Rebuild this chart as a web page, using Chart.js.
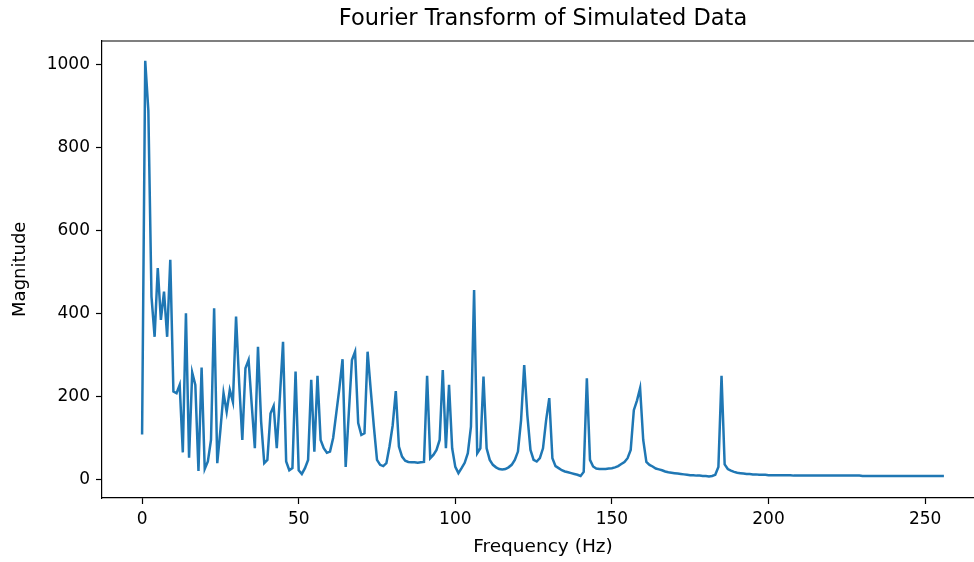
<!DOCTYPE html>
<html>
<head>
<meta charset="utf-8">
<script src="https://cdn.jsdelivr.net/npm/chart.js@4.4.0/dist/chart.umd.min.js"></script>
<style>
  html, body { margin: 0; padding: 0; background: #fff; overflow: hidden; }
  #wrap { width: 992px; height: 562px; }
</style>
</head>
<body>
<div id="wrap"><canvas id="fft" width="992" height="562"></canvas></div>
<script>
// FFT magnitude, one value per 1 Hz bin from 0 to 256 Hz
const magnitude = [
  108, 1010, 890, 441, 344, 510, 385, 453, 344, 530,   // 0
  212, 208, 228, 65, 401, 52, 258, 228, 20, 270,       // 10
  25, 43, 95, 413, 39, 119, 208, 163, 216, 187,        // 20
  393, 232, 95, 268, 288, 180, 75, 320, 140, 39,       // 30
  47, 159, 177, 75, 200, 332, 43, 22, 27, 260,         // 40
  22, 13, 27, 47, 240, 67, 250, 95, 75, 64,            // 50
  67, 100, 160, 220, 290, 30, 160, 288, 308, 136,      // 60
  107, 111, 308, 216, 127, 47, 35, 32, 39, 80,         // 70
  130, 213, 79, 55, 45, 42, 41, 41, 40, 41,            // 80
  42, 250, 51, 59, 71, 95, 264, 75, 228, 75,           // 90
  30, 15, 27, 40, 63, 127, 457, 63, 75, 248,           // 100
  75, 47, 35, 29, 25, 24, 25, 29, 35, 47,              // 110
  67, 143, 276, 155, 71, 47, 43, 51, 75, 143,          // 120
  196, 51, 32, 27, 22, 19, 17, 15, 13, 11,             // 130
  8, 18, 244, 47, 31, 26, 25, 25, 25, 26,              // 140
  27, 29, 32, 37, 42, 51, 71, 167, 190, 220,           // 150
  95, 42, 35, 31, 26, 24, 22, 19, 17, 16,              // 160
  15, 14, 13, 12, 11, 10, 10, 9, 9, 8,                 // 170
  8, 7, 8, 11, 30, 250, 36, 25, 21, 18,                // 180
  16, 15, 14, 13, 13, 12, 12, 11, 11, 11,              // 190
  10, 10, 10, 10, 10, 10, 10, 10, 9, 9,                // 200
  9, 9, 9, 9, 9, 9, 9, 9, 9, 9,                        // 210
  9, 9, 9, 9, 9, 9, 9, 9, 9, 9,                        // 220
  8, 8, 8, 8, 8, 8, 8, 8, 8, 8,                        // 230
  8, 8, 8, 8, 8, 8, 8, 8, 8, 8,                        // 240
  8, 8, 8, 8, 8, 8, 8                                  // 250
];
// bin spacing is 1 Hz
const freqs = magnitude.map((_, i) => i);

const xTicks = [0, 50, 100, 150, 200, 250];
const yTicks = [0, 200, 400, 600, 800, 1000];

const FONT = "'DejaVu Sans', sans-serif";

// top and right spines, matplotlib style box
const frame = {
  id: "frame",
  afterDraw(chart) {
    const { ctx, chartArea: a } = chart;
    ctx.save();
    ctx.strokeStyle = "#000";
    ctx.lineWidth = 1.2;
    ctx.beginPath();
    ctx.moveTo(a.left, a.top + 0.5);
    ctx.lineTo(a.right, a.top + 0.5);
    ctx.lineTo(a.right, a.bottom);
    ctx.stroke();
    ctx.restore();
  }
};

new Chart(document.getElementById("fft"), {
  type: "line",
  data: {
    datasets: [{
      data: freqs.map((f, i) => ({ x: f, y: magnitude[i] })),
      borderColor: "#1f77b4",
      borderWidth: 2.5,
      pointRadius: 0,
      tension: 0,
      fill: false
    }]
  },
  options: {
    responsive: false,
    animation: false,
    devicePixelRatio: 1,
    layout: { padding: { left: 0, right: 8, top: 0, bottom: 0 } },
    plugins: {
      legend: { display: false },
      tooltip: { enabled: false },
      title: {
        display: true,
        text: "Fourier Transform of Simulated Data",
        fullSize: false,
        color: "#000",
        font: { family: FONT, size: 22.5, weight: "normal" },
        padding: { top: 6, bottom: 7.5 }
      }
    },
    scales: {
      x: {
        type: "linear",
        min: -12.8,
        max: 268.8,
        afterBuildTicks: s => { s.ticks = xTicks.map(v => ({ value: v })); },
        afterFit: s => { s.height = 64; },
        grid: { drawOnChartArea: false, drawTicks: true, tickLength: 6, tickColor: "#000", tickWidth: 1.2 },
        border: { display: true, color: "#000", width: 1.2 },
        ticks: { color: "#000", font: { family: FONT, size: 17 }, padding: 5, maxRotation: 0, callback: v => String(v) },
        title: {
          display: true,
          text: "Frequency (Hz)",
          color: "#000",
          font: { family: FONT, size: 18.5 },
          padding: { top: 0, bottom: 4 }
        }
      },
      y: {
        min: -45,
        max: 1059,
        afterBuildTicks: s => { s.ticks = yTicks.map(v => ({ value: v })); },
        afterFit: s => { s.width = 102; },
        grid: { drawOnChartArea: false, drawTicks: true, tickLength: 6, tickColor: "#000", tickWidth: 1.2 },
        border: { display: true, color: "#000", width: 1.2 },
        ticks: { color: "#000", font: { family: FONT, size: 17 }, padding: 6, callback: v => String(v) },
        title: {
          display: true,
          text: "Magnitude",
          color: "#000",
          font: { family: FONT, size: 18 },
          padding: { top: 10, bottom: 0 }
        }
      }
    }
  },
  plugins: [frame]
});
</script>
</body>
</html>
